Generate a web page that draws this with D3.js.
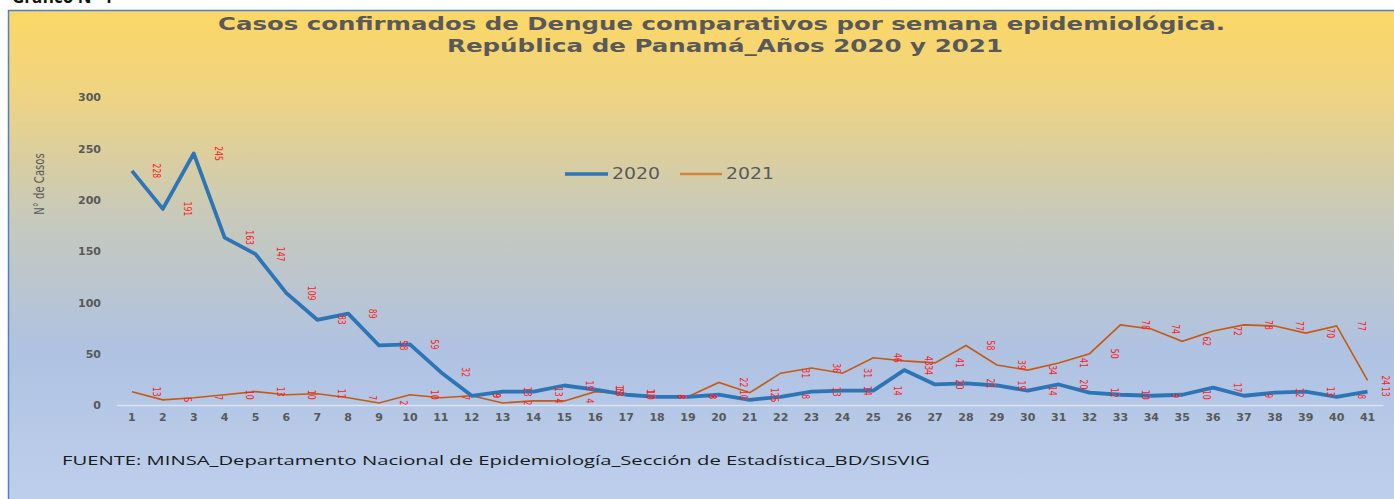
<!DOCTYPE html>
<html><head><meta charset="utf-8">
<script src="https://cdn.jsdelivr.net/npm/d3@7"></script>
<style>
html,body{margin:0;padding:0;background:#fff;}
svg{display:block;}
</style></head>
<body>
<svg id="c" width="1394" height="499"></svg>
<script>
const weeks = d3.range(1, 42).map(String);
const cases2020 = [228,191,245,163,147,109,83,89,58,59,32,9,13,13,19,15,10,8,8,10,5,8,13,14,14,34,20,21,19,14,20,12,10,9,10,17,9,12,13,8,13];
const cases2021 = [13,5,7,10,13,10,11,7,2,10,7,9,2,4,4,13,11,8,8,22,12,31,36,31,46,43,41,58,39,34,41,50,78,74,62,72,78,77,70,77,24];
const yTicks = [0,50,100,150,200,250,300];
const seriesNames = ["2020","2021"];
const titleLines = ["Casos confirmados de Dengue comparativos por semana epidemiológica.","República de Panamá_Años 2020 y 2021"];

const svg = d3.select("#c");
const W = 1394, H = 499;

const defs = svg.append("defs");
const g = defs.append("linearGradient").attr("id","bg").attr("x1",0).attr("y1",0).attr("x2",0).attr("y2",1);
[["0%","#FDD865"],["18%","#EDD385"],["42%","#C6C9BC"],["68%","#AFC2E2"],["100%","#BED0EC"]].forEach(s=>g.append("stop").attr("offset",s[0]).attr("stop-color",s[1]));

svg.append("text").attr("x",12).attr("y",3).attr("font-family","Open Sans, sans-serif").attr("font-weight","bold").attr("font-size",17).attr("fill","#111").text("Gráfico N° 1");
svg.append("rect").attr("x",8.5).attr("y",10.5).attr("width",W).attr("height",H).attr("fill","url(#bg)").attr("stroke","#4F7FC4").attr("stroke-width",1.5);

const tl = [[218,1225,30],[447,1003,52]];
titleLines.forEach((t,i)=>{
  svg.append("text").attr("x",tl[i][0]).attr("y",tl[i][2]).attr("textLength",tl[i][1]-tl[i][0]).attr("lengthAdjust","spacingAndGlyphs")
    .attr("font-family","DejaVu Sans, sans-serif").attr("font-weight","bold").attr("font-size",18).attr("fill","#595959").text(t);
});

const x = d3.scaleBand().domain(weeks).range([116.5,1383]);
const y = d3.scaleLinear().domain([0,300]).range([405,97]);
const cx = d => x(d) + x.bandwidth()/2;

const ya = svg.append("g").attr("transform","translate(101,0)").call(d3.axisLeft(y).tickValues(yTicks).tickSize(0).tickPadding(0));
ya.select(".domain").remove();
ya.selectAll("text").attr("font-family","DejaVu Sans, sans-serif").attr("font-weight","bold").attr("font-size",11).attr("fill","#595959").attr("dy","0.35em");

const xa = svg.append("g").attr("transform","translate(0,405)").call(d3.axisBottom(x).tickSize(0).tickPadding(8));
xa.select(".domain").attr("stroke","#DDE3EE").attr("stroke-width",1.5);
xa.selectAll("text").attr("font-family","DejaVu Sans, sans-serif").attr("font-weight","bold").attr("font-size",11).attr("fill","#595959");

svg.append("text").attr("transform","translate(44,184) rotate(-90) scale(0.72,1)").attr("text-anchor","middle")
  .attr("font-family","DejaVu Sans, sans-serif").attr("font-size",14).attr("fill","#595959").text("N° de Casos");

const line = d3.line().x((d,i)=>cx(weeks[i])).y(d=>y(d));
svg.append("path").datum(cases2021).attr("d",line).attr("fill","none").attr("stroke","#C55A11").attr("stroke-width",1.6);
svg.append("path").datum(cases2020).attr("d",line).attr("fill","none").attr("stroke","#2E75B6").attr("stroke-width",3.8).attr("stroke-linejoin","round");

function labels(data){
  svg.append("g").selectAll("text").data(data).join("text")
    .attr("transform",(d,i)=>`translate(${Math.min(cx(weeks[i])+25,1386)},${y(d)}) rotate(90) scale(0.7,1)`)
    .attr("text-anchor","middle").attr("dy","0.35em")
    .attr("font-family","DejaVu Sans, sans-serif")
    .attr("font-size",11).attr("fill","#FF2020").text(d=>d);
}
labels(cases2020);
labels(cases2021);

const lg = svg.append("g");
const lx = [[565,608,612],[680,722,726]];
const lc = ["#2E75B6","#D7823A"], lw = [3.5,2.5];
seriesNames.forEach((n,i)=>{
  lg.append("line").attr("x1",lx[i][0]).attr("x2",lx[i][1]).attr("y1",174).attr("y2",174).attr("stroke",lc[i]).attr("stroke-width",lw[i]);
  lg.append("text").attr("x",lx[i][2]).attr("y",179).attr("textLength",48).attr("lengthAdjust","spacingAndGlyphs")
    .attr("font-family","DejaVu Sans, sans-serif").attr("font-size",15).attr("fill","#595959").text(n);
});

svg.append("text").attr("x",62).attr("y",465).attr("textLength",868).attr("lengthAdjust","spacingAndGlyphs")
  .attr("font-family","Open Sans, sans-serif").attr("font-size",13).attr("fill","#1a1a1a")
  .text("FUENTE: MINSA_Departamento Nacional de Epidemiología_Sección de Estadística_BD/SISVIG");
</script>
</body></html>
